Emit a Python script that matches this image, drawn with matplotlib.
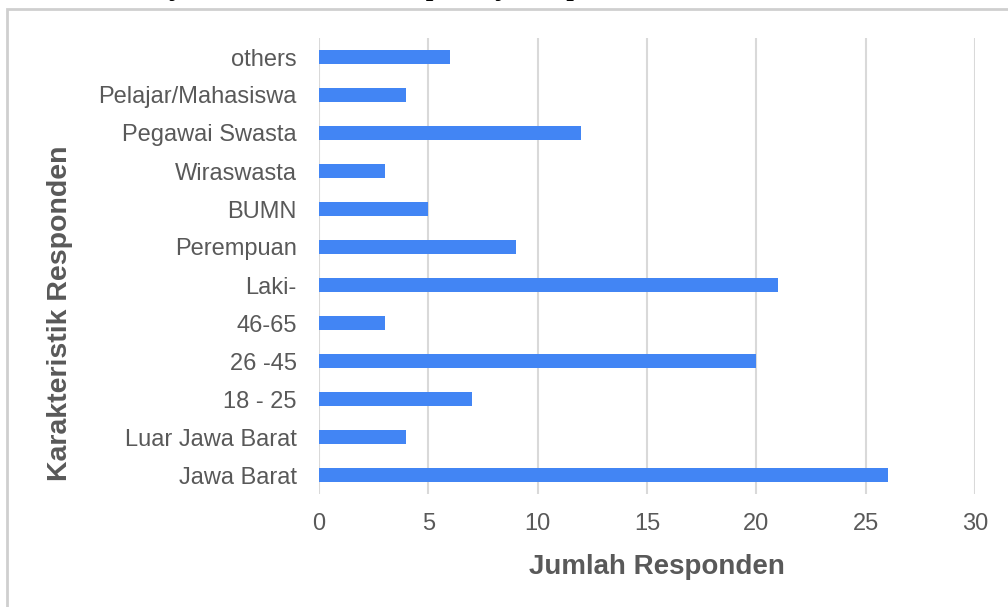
import matplotlib.pyplot as plt
from matplotlib.patches import Rectangle

# categories from bottom to top
kategori = ["Jawa Barat", "Luar Jawa Barat", "18 - 25", "26 -45", "46-65", "Laki-",
            "Perempuan", "BUMN", "Wiraswasta", "Pegawai Swasta", "Pelajar/Mahasiswa", "others"]
jumlah = [26, 4, 7, 20, 3, 21, 9, 5, 3, 12, 4, 6]
x_ticks = [0, 5, 10, 15, 20, 25, 30]

text_color = "#595959"
bar_color = "#4285F4"

plt.rcParams["font.family"] = ["Liberation Sans", "DejaVu Sans"]

fig = plt.figure(figsize=(10.08, 6.07), dpi=100)
ax = fig.add_axes([319 / 1008, 1 - 494 / 607, 656 / 1008, 456 / 607])

ax.barh(range(len(kategori)), jumlah, height=0.37, color=bar_color, zorder=3)
ax.set_ylim(-0.5, len(kategori) - 0.5)
ax.set_xlim(0, 30)
ax.set_xticks(x_ticks)
ax.set_yticks(range(len(kategori)))
ax.set_yticklabels(kategori)
ax.grid(axis="x", color="#d9d9d9", linewidth=1.5, zorder=0)
for s in ax.spines.values():
    s.set_visible(False)
ax.tick_params(axis="both", length=0, labelsize=17, colors=text_color)
ax.tick_params(axis="y", pad=16)
ax.tick_params(axis="x", pad=14)

# axis titles placed where they sit in the picture
fig.text(657 / 1008, 1 - 567 / 607, "Jumlah Responden", ha="center", va="center",
         fontsize=20, fontweight="bold", color=text_color)
fig.text(60 / 1008, 1 - 313 / 607, "Karakteristik Responden", ha="center", va="center",
         rotation=90, fontsize=20.5, fontweight="bold", color=text_color)

# outer chart frame
fig.patches.append(Rectangle((7 / 1008, -0.05), 1.1, 1 - 9 / 607 + 0.05,
                             transform=fig.transFigure, fill=False,
                             edgecolor="#cfcfcf", linewidth=2))

# cut-off caption line above the chart (only its lower edge is visible)
fig.text(8 / 1008, 1 + 6 / 607, "berdasarkan jenis kelamin, usia, pekerjaan, pendidikan, dan domisili.",
         ha="left", va="baseline", fontsize=23, family="Liberation Serif", color="black")

fig.savefig("out.png", dpi=100)
